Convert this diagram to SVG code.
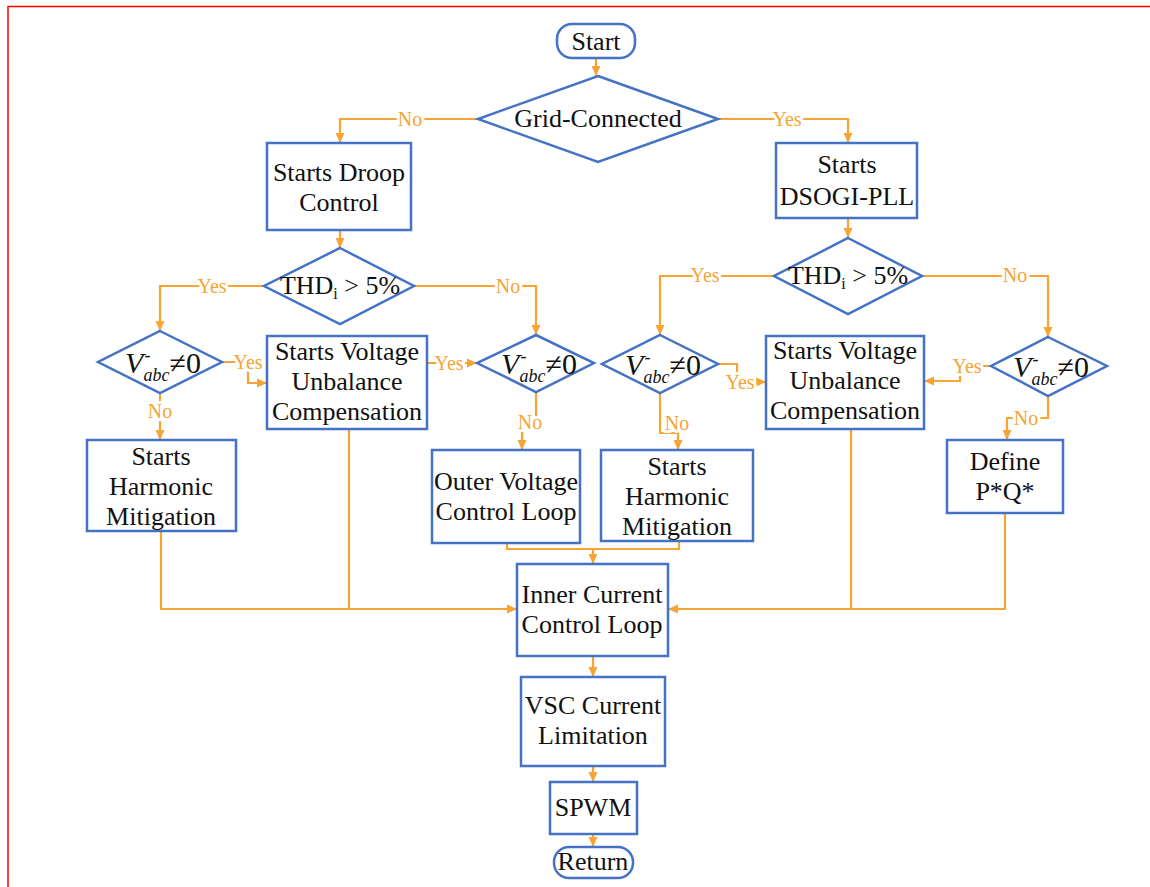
<svg xmlns="http://www.w3.org/2000/svg" width="1150" height="887" viewBox="0 0 1150 887" font-family="'Liberation Serif', serif">
<defs>
<marker id="arr" markerWidth="10" markerHeight="10" refX="10" refY="5" orient="auto" markerUnits="userSpaceOnUse"><path d="M0,0.5 L10,5 L0,9.5 z" fill="#F7A434"/></marker>
<style>
.n{fill:#fff;stroke:#4472C4;stroke-width:2.5}
.c{fill:none;stroke:#F7A434;stroke-width:2.2}
.t{font-size:26px;fill:#111;text-anchor:middle}
.l{font-size:20px;fill:#F7A434;text-anchor:middle;stroke:#fff;stroke-width:6px;paint-order:stroke;stroke-linejoin:round}
.v{font-size:30px;fill:#111;text-anchor:middle}
.sm{font-size:18px}
.ab{font-style:italic;font-size:18px}
</style>
</defs>
<rect width="1150" height="887" fill="#fff"/>
<path d="M8,887 V6.5 H1150" fill="none" stroke="#FF0000" stroke-width="1.5"/>

<g id="connectors">
<path class="c" d="M596,58 V76" marker-end="url(#arr)"/>
<path class="c" d="M478,119 H340 V143" marker-end="url(#arr)"/>
<path class="c" d="M718,119 H848 V143" marker-end="url(#arr)"/>
<path class="c" d="M340,230 V248" marker-end="url(#arr)"/>
<path class="c" d="M848,218 V238" marker-end="url(#arr)"/>
<path class="c" d="M264,286 H160 V331" marker-end="url(#arr)"/>
<path class="c" d="M414,286 H536 V335" marker-end="url(#arr)"/>
<path class="c" d="M774,276 H660 V335" marker-end="url(#arr)"/>
<path class="c" d="M922,276 H1048 V337" marker-end="url(#arr)"/>
<path class="c" d="M222,362 H248 V383 H267" marker-end="url(#arr)"/>
<path class="c" d="M160,393 V440" marker-end="url(#arr)"/>
<path class="c" d="M427,363 H477" marker-end="url(#arr)"/>
<path class="c" d="M536,392 V422 H522 V450" marker-end="url(#arr)"/>
<path class="c" d="M718,364 H737 V382 H766" marker-end="url(#arr)"/>
<path class="c" d="M660,393 V433 H678 V450" marker-end="url(#arr)"/>
<path class="c" d="M991,366 H960 V381 H924" marker-end="url(#arr)"/>
<path class="c" d="M1048,396 V418 H1007 V440" marker-end="url(#arr)"/>
<path class="c" d="M161,531 V609 H517" marker-end="url(#arr)"/>
<path class="c" d="M349,429 V609"/>
<path class="c" d="M507,543 V549 H679 V541"/>
<path class="c" d="M593,549 V564" marker-end="url(#arr)"/>
<path class="c" d="M1005,513 V609 H668" marker-end="url(#arr)"/>
<path class="c" d="M851,429 V609"/>
<path class="c" d="M593,656 V677" marker-end="url(#arr)"/>
<path class="c" d="M593,766 V782" marker-end="url(#arr)"/>
<path class="c" d="M593,834 V847" marker-end="url(#arr)"/>
<text class="l" x="410" y="126">No</text>
<text class="l" x="787" y="126">Yes</text>
<text class="l" x="212" y="293">Yes</text>
<text class="l" x="508" y="293">No</text>
<text class="l" x="705" y="282">Yes</text>
<text class="l" x="1015" y="282">No</text>
<text class="l" x="248" y="369">Yes</text>
<text class="l" x="160" y="418">No</text>
<text class="l" x="449" y="370">Yes</text>
<text class="l" x="530" y="429">No</text>
<text class="l" x="740" y="389">Yes</text>
<text class="l" x="677" y="430">No</text>
<text class="l" x="967" y="373">Yes</text>
<text class="l" x="1026" y="425">No</text>
</g>

<g id="start"><rect class="n" x="557" y="24" width="78" height="34" rx="15"/><text class="t" x="596" y="50">Start</text></g>
<g id="grid"><polygon class="n" points="598,76 718,119 598,162 478,119"/><text class="t" x="598" y="127">Grid-Connected</text></g>
<g id="droop"><rect class="n" x="267" y="143" width="144" height="87"/><text class="t" x="339" y="181">Starts Droop</text><text class="t" x="339" y="211">Control</text></g>
<g id="dsogi"><rect class="n" x="776" y="143" width="141" height="75"/><text class="t" x="847" y="173">Starts</text><text class="t" x="847" y="205">DSOGI-PLL</text></g>
<g id="thd1"><polygon class="n" points="340,248 414,286 340,324 264,286"/><text class="t" x="340" y="294">THD<tspan font-size="16" dy="5">i</tspan><tspan dy="-5"> &gt; 5%</tspan></text></g>
<g id="thd2"><polygon class="n" points="848,238 922,276 848,314 774,276"/><text class="t" x="848" y="284">THD<tspan font-size="16" dy="5">i</tspan><tspan dy="-5"> &gt; 5%</tspan></text></g>
<g id="v1"><polygon class="n" points="160,331 222,362 160,393 98,362"/><text class="v" x="163" y="373"><tspan font-style="italic">V</tspan><tspan class="sm" dx="1" dy="-12">-</tspan><tspan class="ab" dx="-7" dy="20">abc</tspan><tspan dy="-8">≠0</tspan></text></g>
<g id="vuc1"><rect class="n" x="267" y="336" width="160" height="93"/><text class="t" x="347" y="360">Starts Voltage</text><text class="t" x="347" y="390">Unbalance</text><text class="t" x="347" y="420">Compensation</text></g>
<g id="v2"><polygon class="n" points="536,335 594,363 536,392 477,363"/><text class="v" x="539" y="374"><tspan font-style="italic">V</tspan><tspan class="sm" dx="1" dy="-12">-</tspan><tspan class="ab" dx="-7" dy="20">abc</tspan><tspan dy="-8">≠0</tspan></text></g>
<g id="v3"><polygon class="n" points="660,335 718,364 660,393 602,364"/><text class="v" x="663" y="375"><tspan font-style="italic">V</tspan><tspan class="sm" dx="1" dy="-12">-</tspan><tspan class="ab" dx="-7" dy="20">abc</tspan><tspan dy="-8">≠0</tspan></text></g>
<g id="vuc2"><rect class="n" x="766" y="336" width="158" height="93"/><text class="t" x="845" y="359">Starts Voltage</text><text class="t" x="845" y="389">Unbalance</text><text class="t" x="845" y="419">Compensation</text></g>
<g id="v4"><polygon class="n" points="1048,337 1107,366 1048,396 991,366"/><text class="v" x="1051" y="377"><tspan font-style="italic">V</tspan><tspan class="sm" dx="1" dy="-12">-</tspan><tspan class="ab" dx="-7" dy="20">abc</tspan><tspan dy="-8">≠0</tspan></text></g>
<g id="hm1"><rect class="n" x="87" y="440" width="149" height="91"/><text class="t" x="161" y="465">Starts</text><text class="t" x="161" y="495">Harmonic</text><text class="t" x="161" y="525">Mitigation</text></g>
<g id="ovcl"><rect class="n" x="432" y="450" width="148" height="93"/><text class="t" x="506" y="490">Outer Voltage</text><text class="t" x="506" y="520">Control Loop</text></g>
<g id="hm2"><rect class="n" x="601" y="450" width="152" height="91"/><text class="t" x="677" y="475">Starts</text><text class="t" x="677" y="505">Harmonic</text><text class="t" x="677" y="535">Mitigation</text></g>
<g id="define"><rect class="n" x="947" y="440" width="116" height="73"/><text class="t" x="1005" y="470">Define</text><text class="t" x="1005" y="500">P*Q*</text></g>
<g id="icl"><rect class="n" x="517" y="564" width="151" height="92"/><text class="t" x="592" y="603">Inner Current</text><text class="t" x="592" y="633">Control Loop</text></g>
<g id="vsc"><rect class="n" x="521" y="677" width="144" height="89"/><text class="t" x="593" y="714">VSC Current</text><text class="t" x="593" y="744">Limitation</text></g>
<g id="spwm"><rect class="n" x="550" y="782" width="87" height="52"/><text class="t" x="593" y="816">SPWM</text></g>
<g id="return"><rect class="n" x="554" y="847" width="79" height="31" rx="15"/><text class="t" x="593" y="870">Return</text></g>
</svg>
